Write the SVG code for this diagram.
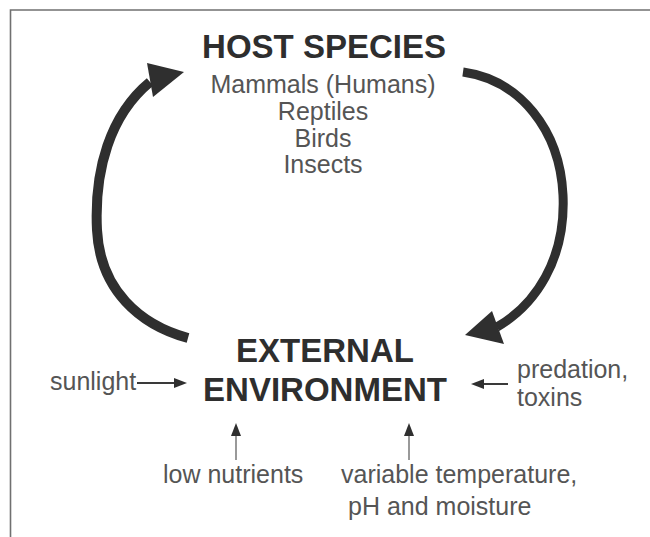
<svg xmlns="http://www.w3.org/2000/svg" width="650" height="537" viewBox="0 0 650 537">
  <style>
    .title { font-family: "Liberation Sans", Arial, sans-serif; font-weight: bold; font-size: 33px; fill: #2e2e2e; text-anchor: middle; }
    .sub { font-family: "Liberation Sans", Arial, sans-serif; font-size: 25px; fill: #555; }
    .mid { text-anchor: middle; }
    .arc { fill: none; stroke: #2f2f2f; stroke-linecap: butt; }
    .head { fill: #2f2f2f; }
    .small { stroke: #3a3a3a; stroke-width: 2; fill: none; marker-end: url(#tip); }
    .up { stroke: #777; stroke-width: 1.5; fill: none; marker-end: url(#tip); }
    .frame { fill: none; stroke: #707070; stroke-width: 1.6; }
  </style>
  <defs>
    <marker id="tip" markerUnits="userSpaceOnUse" markerWidth="13" markerHeight="11" refX="10" refY="5" orient="auto">
      <path d="M0,0 L13,5 L0,10 z" fill="#2f2f2f"/>
    </marker>
  </defs>
  <rect width="650" height="537" fill="#fff"/>
  <path class="frame" d="M10.5,537 L10.5,10 L650,10"/>

  <g id="connectors">
    <path class="arc" stroke-width="10" d="M188,338 C140,325 100,290 97,230 C94,170 110,115 150,82"/>
    <polygon class="head" points="147,63 184,72 153,97"/>
    <path class="arc" stroke-width="9" d="M463,72 C520,80 560,130 563,195 C566,260 535,305 497,327"/>
    <polygon class="head" points="465,335 492,311 504,344"/>
    <path class="small" d="M137,383 L184,383"/>
    <path class="small" d="M508,384 L474,384"/>
    <path class="up" d="M236,460 L236,426"/>
    <path class="up" d="M409,460 L409,426"/>
  </g>

  <g id="host-species">
    <text class="title" x="324" y="58">HOST SPECIES</text>
    <text class="sub mid" x="323" y="93">Mammals (Humans)</text>
    <text class="sub mid" x="323" y="120">Reptiles</text>
    <text class="sub mid" x="323" y="147">Birds</text>
    <text class="sub mid" x="323" y="173">Insects</text>
  </g>

  <g id="external-environment">
    <text class="title" x="325" y="362">EXTERNAL</text>
    <text class="title" x="325" y="401">ENVIRONMENT</text>
  </g>

  <g id="sunlight">
    <text class="sub" x="50" y="390">sunlight</text>
  </g>
  <g id="predation">
    <text class="sub" x="517" y="378">predation,</text>
    <text class="sub" x="517" y="406">toxins</text>
  </g>
  <g id="low-nutrients">
    <text class="sub" x="163" y="483">low nutrients</text>
  </g>
  <g id="variable">
    <text class="sub" x="341" y="483">variable temperature,</text>
    <text class="sub" x="348" y="515">pH and moisture</text>
  </g>
</svg>
